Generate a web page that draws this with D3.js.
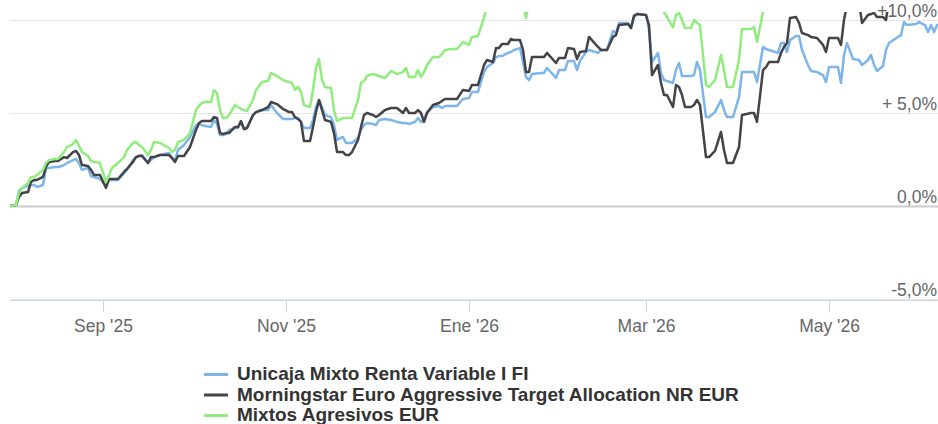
<!DOCTYPE html>
<html>
<head>
<meta charset="utf-8">
<script src="https://cdn.jsdelivr.net/npm/d3@7/dist/d3.min.js"></script>
<style>
  body { margin: 0; background: #fff; }
  svg { display: block; font-family: "Liberation Sans", Arial, Helvetica, sans-serif; }
</style>
</head>
<body>
<svg width="938" height="424"></svg>
<script>
// dates of the sampled points (shared by the three series)
var dates = [
  "2025-08-01","2025-08-03","2025-08-04","2025-08-05","2025-08-07","2025-08-08","2025-08-09","2025-08-10","2025-08-12","2025-08-13",
  "2025-08-14","2025-08-16","2025-08-17","2025-08-19","2025-08-20","2025-08-22","2025-08-23","2025-08-24","2025-08-25","2025-08-27",
  "2025-08-28","2025-08-29","2025-08-31","2025-09-02","2025-09-03","2025-09-04","2025-09-06","2025-09-08","2025-09-09","2025-09-11",
  "2025-09-12","2025-09-13","2025-09-14","2025-09-16","2025-09-17","2025-09-18","2025-09-20","2025-09-23","2025-09-24","2025-09-25",
  "2025-09-26","2025-09-28","2025-09-30","2025-10-02","2025-10-03","2025-10-04","2025-10-05","2025-10-07","2025-10-08","2025-10-09",
  "2025-10-10","2025-10-11","2025-10-12","2025-10-13","2025-10-15","2025-10-16","2025-10-17","2025-10-18","2025-10-19","2025-10-21",
  "2025-10-22","2025-10-24","2025-10-26","2025-10-27","2025-10-29","2025-10-31","2025-11-02","2025-11-03","2025-11-04","2025-11-05",
  "2025-11-06","2025-11-07","2025-11-09","2025-11-10","2025-11-11","2025-11-12","2025-11-13","2025-11-14","2025-11-16","2025-11-17",
  "2025-11-18","2025-11-20","2025-11-21","2025-11-22","2025-11-23","2025-11-25","2025-11-26","2025-11-27","2025-11-28","2025-11-30",
  "2025-12-01","2025-12-02","2025-12-04","2025-12-06","2025-12-08","2025-12-10","2025-12-11","2025-12-12","2025-12-14","2025-12-15",
  "2025-12-16","2025-12-17","2025-12-18","2025-12-20","2025-12-22","2025-12-23","2025-12-24","2025-12-26","2025-12-28","2025-12-30",
  "2026-01-01","2026-01-02","2026-01-04","2026-01-06","2026-01-07","2026-01-09","2026-01-10","2026-01-11","2026-01-12","2026-01-14",
  "2026-01-15","2026-01-16","2026-01-18","2026-01-19","2026-01-20","2026-01-21","2026-01-22","2026-01-25","2026-01-26","2026-01-27",
  "2026-01-30","2026-01-31","2026-02-02","2026-02-03","2026-02-05","2026-02-06","2026-02-07","2026-02-09","2026-02-10","2026-02-13",
  "2026-02-14","2026-02-16","2026-02-18","2026-02-19","2026-02-20","2026-02-23","2026-02-24","2026-02-25","2026-02-26","2026-03-01",
  "2026-03-02","2026-03-03","2026-03-05","2026-03-06","2026-03-07","2026-03-08","2026-03-10","2026-03-11","2026-03-12","2026-03-13",
  "2026-03-14","2026-03-16","2026-03-17","2026-03-18","2026-03-19","2026-03-21","2026-03-22","2026-03-24","2026-03-26","2026-03-27",
  "2026-03-28","2026-03-30","2026-04-01","2026-04-02","2026-04-05","2026-04-06","2026-04-07","2026-04-09","2026-04-10","2026-04-11",
  "2026-04-14","2026-04-15","2026-04-16","2026-04-17","2026-04-18","2026-04-20","2026-04-21","2026-04-22","2026-04-24","2026-04-25",
  "2026-04-27","2026-04-29","2026-04-30","2026-05-01","2026-05-04","2026-05-05","2026-05-06","2026-05-07","2026-05-09","2026-05-11",
  "2026-05-12","2026-05-14","2026-05-15","2026-05-16","2026-05-17","2026-05-19","2026-05-20","2026-05-21","2026-05-24","2026-05-25",
  "2026-05-26","2026-05-27","2026-05-30","2026-05-31","2026-06-02","2026-06-03","2026-06-04","2026-06-05","2026-06-06"
];

// Unicaja Mixto Renta Variable I FI (% return)
var unicaja = [
  0,0.05,0.81,0.97,1.08,1.13,1.13,1.02,1.13,2.04,
  2.04,2.10,2.10,2.20,2.31,2.47,2.53,2.31,1.94,2.04,
  1.61,1.56,1.45,1.08,1.40,1.40,1.40,1.77,1.94,2.47,
  2.63,2.69,2.74,2.31,2.47,2.63,2.74,2.85,2.58,2.47,
  3.01,3.28,3.71,4.35,4.41,4.35,4.30,4.25,4.62,4.41,
  3.82,3.82,3.87,4.09,4.19,4.19,4.52,4.14,4.19,4.89,
  5.05,5.16,5.16,5.43,5.00,4.68,4.68,4.68,4.73,4.73,
  4.52,4.19,4.19,4.62,5.32,5.70,5.32,4.89,4.78,4.35,
  3.55,3.71,3.39,3.39,3.39,3.66,4.09,4.35,4.46,4.41,
  4.35,4.62,4.68,4.62,4.52,4.46,4.46,4.41,4.52,4.73,
  4.52,4.62,5.05,5.32,5.38,5.27,5.38,5.38,5.38,5.75,
  5.81,6.13,6.13,7.20,7.47,7.69,8.01,8.06,8.06,8.23,
  8.28,8.39,8.49,7.74,6.94,6.77,7.10,7.15,7.15,7.42,
  6.88,7.31,7.31,7.80,7.80,7.31,7.80,8.28,8.39,8.23,
  8.39,8.39,9.41,9.30,9.84,9.84,9.57,10.16,10.32,10.27,
  9.46,7.74,8.23,7.15,6.77,6.72,6.61,7.31,7.69,6.99,
  6.99,6.99,7.04,7.74,7.31,4.78,4.78,5.05,5.70,5.16,
  4.78,4.78,5.86,7.20,7.20,7.20,6.67,8.55,8.44,8.39,
  8.23,8.76,8.76,8.28,8.92,9.14,9.14,8.39,7.58,7.26,
  7.20,7.04,6.67,7.47,7.47,6.61,8.12,8.76,7.90,7.85,
  7.58,7.85,8.12,7.58,7.26,7.53,8.39,8.76,9.09,9.19,
  9.89,9.73,9.78,9.89,9.73,9.35,9.73,9.35,9.73
];

// Morningstar Euro Aggressive Target Allocation NR EUR (% return)
var morningstar = [
  0,0.05,0.48,0.70,0.75,1.29,1.40,1.40,1.56,2.10,
  2.37,2.42,2.42,2.63,2.58,2.90,2.96,2.74,2.20,2.15,
  1.94,1.67,1.67,0.97,1.45,1.45,1.45,1.83,1.99,2.37,
  2.63,2.69,2.69,2.31,2.63,2.63,2.74,2.74,2.58,2.37,
  2.69,2.69,3.17,4.09,4.46,4.57,4.57,4.57,4.78,4.73,
  3.92,3.87,3.92,3.92,4.25,4.25,4.57,4.14,4.19,4.89,
  5.05,5.16,5.32,5.59,5.48,5.22,5.05,5.05,4.78,4.68,
  4.52,3.49,3.49,4.25,5.05,5.70,5.16,4.62,4.52,3.92,
  2.90,2.90,2.74,2.74,2.90,3.55,4.25,4.89,5.00,4.89,
  4.78,4.89,5.16,5.27,5.27,5.00,5.27,5.00,5.00,5.16,
  5.00,4.52,5.00,5.43,5.54,5.65,5.75,5.75,5.75,6.24,
  6.18,6.51,6.51,7.58,7.85,7.74,8.49,8.49,8.71,8.71,
  8.98,8.92,8.92,8.39,7.20,7.20,8.01,8.01,8.01,8.23,
  7.69,7.96,7.96,8.49,8.44,7.90,8.28,8.33,9.09,8.55,
  8.39,8.39,9.09,9.19,9.73,9.78,9.57,10.22,10.32,10.27,
  9.73,7.04,7.58,6.61,5.97,5.97,5.32,6.51,6.40,5.97,
  5.32,5.32,5.43,5.70,5.43,2.63,2.63,2.96,3.98,3.01,
  2.31,2.31,3.17,4.89,5.00,5.00,4.52,7.31,7.47,7.74,
  7.74,8.23,8.55,8.76,10.11,10.16,9.84,9.30,9.19,9.09,
  9.03,8.66,8.28,9.03,9.03,8.66,10.00,10.81,11.08,10.97,
  9.84,10.27,10.32,10.38,10.16,10.16,10.00,11.08,11.30,11.40,
  11.70,11.60,11.60,11.70,11.60,11.40,11.50,11.40,11.50
];

// Mixtos Agresivos EUR (% return)
var mixtos = [
  0,0.05,0.70,0.97,1.24,1.56,1.56,1.67,1.94,2.31,
  2.47,2.53,2.53,2.90,3.17,3.33,3.55,3.23,2.90,2.69,
  2.42,2.37,2.31,1.29,1.67,2.04,2.31,2.63,3.01,3.39,
  3.44,3.28,3.17,2.74,3.01,3.44,3.39,3.12,2.90,3.01,
  3.44,3.55,3.92,5.16,5.38,5.54,5.59,5.59,6.24,6.08,
  5.16,4.73,4.73,4.89,5.43,5.32,5.22,5.16,5.11,5.70,
  6.24,6.67,6.72,7.15,6.99,6.77,6.67,6.61,6.24,6.40,
  6.13,5.43,5.32,6.24,7.42,7.90,6.77,6.40,6.34,5.16,
  4.57,4.73,4.73,4.73,4.73,5.70,6.61,6.72,6.99,7.10,
  7.04,6.99,6.88,7.26,7.10,7.20,7.42,6.94,6.94,7.31,
  6.94,7.20,7.58,8.01,8.01,8.17,8.39,8.44,8.44,8.82,
  8.66,9.09,9.14,10.11,10.81,11.30,11.40,11.50,11.60,11.60,
  11.70,11.70,11.50,10.90,10.11,10.90,11.20,11.30,11.30,11.40,
  11.00,11.20,11.20,11.50,11.50,11.20,11.40,11.60,11.80,11.60,
  11.60,11.70,12.00,12.00,12.20,12.20,12.10,12.40,12.50,12.50,
  12.00,11.80,11.60,11.20,10.43,10.16,9.62,10.27,10.38,10.00,
  9.57,9.57,10.00,9.84,9.73,6.51,6.40,6.77,8.12,7.31,
  6.40,6.40,7.85,9.52,9.52,9.62,8.82,10.43,11.20,11.50,
  11.60,11.80,11.90,11.90,12.10,12.20,12.20,12.00,11.80,11.80,
  11.70,11.60,11.50,11.80,11.80,11.60,12.00,12.30,12.30,12.30,
  12.20,12.30,12.40,12.40,12.30,12.30,12.40,12.60,12.70,12.80,
  13.00,12.90,12.90,13.00,12.90,12.70,12.80,12.70,12.80
];

var seriesNames = ["Unicaja Mixto Renta Variable I FI", "Morningstar Euro Aggressive Target Allocation NR EUR", "Mixtos Agresivos EUR"];
var seriesColors = ["#7cb5ec", "#434348", "#90ed7d"];

var xTickDates = ["2025-09-01", "2025-11-01", "2026-01-01", "2026-03-01", "2026-05-01"];
var xTickLabels = ["Sep '25", "Nov '25", "Ene '26", "Mar '26", "May '26"];
var yTickValues = [-5, 0, 5, 10];
var yTickLabels = ["-5,0%", "0,0%", "+ 5,0%", "+10,0%"];

var parse = d3.timeParse("%Y-%m-%d");
var svg = d3.select("svg");
var plot = {left: 10, right: 938, top: 12, bottom: 300};

var x = d3.scaleTime()
    .domain([parse("2025-08-01"), parse("2026-06-06")])
    .range([10, 937]);
var y = d3.scaleLinear().domain([-5, 10]).range([299, 20]);

// grid lines
svg.append("g").selectAll("line")
  .data(yTickValues)
  .enter().append("line")
    .attr("x1", plot.left)
    .attr("x2", plot.right)
    .attr("y1", function(d) { return Math.round(y(d)) + 0.5; })
    .attr("y2", function(d) { return Math.round(y(d)) + 0.5; })
    .attr("stroke", function(d) { return d === 0 ? "#cccccc" : "#e6e6e6"; })
    .attr("stroke-width", function(d) { return d === 0 ? 2 : 1; });

// y labels (right side, drawn under the series)
svg.append("g").selectAll("text")
  .data(yTickValues)
  .enter().append("text")
    .attr("x", 937)
    .attr("y", function(d) { return y(d) - 3; })
    .attr("text-anchor", "end")
    .attr("fill", "#666666")
    .style("font-size", "17.5px")
    .text(function(d, i) { return yTickLabels[i]; });

// x axis
var xAxis = d3.axisBottom(x)
    .tickValues(xTickDates.map(parse))
    .tickFormat(function(d, i) { return xTickLabels[i]; })
    .tickSize(12)
    .tickSizeOuter(0);

var gx = svg.append("g")
    .attr("transform", "translate(0," + plot.bottom + ")")
    .call(xAxis);
gx.select(".domain").attr("stroke", "#ccd6eb").attr("d", "M" + plot.left + ",0.5H" + plot.right);
gx.selectAll(".tick line").attr("stroke", "#ccd6eb");
gx.selectAll(".tick text")
    .attr("y", 31.5)
    .attr("dy", null)
    .attr("fill", "#666666")
    .style("font-size", "17.5px")
    .style("font-family", "'Liberation Sans', Arial, sans-serif");

// series
svg.append("clipPath").attr("id", "plotclip")
  .append("rect")
    .attr("x", plot.left)
    .attr("y", plot.top)
    .attr("width", plot.right - plot.left)
    .attr("height", plot.bottom - plot.top);

var allSeries = [unicaja, morningstar, mixtos];
var line = d3.line()
    .x(function(d) { return x(d.date); })
    .y(function(d) { return y(d.value); });

var gLines = svg.append("g").attr("clip-path", "url(#plotclip)");
allSeries.forEach(function(values, s) {
  var pts = dates.map(function(dt, i) { return {date: parse(dt), value: values[i]}; });
  gLines.append("path")
    .datum(pts)
    .attr("fill", "none")
    .attr("stroke", seriesColors[s])
    .attr("stroke-width", 2.5)
    .attr("stroke-linejoin", "round")
    .attr("stroke-linecap", "round")
    .attr("d", line);
});

// legend
var legend = svg.append("g").attr("transform", "translate(204,380)");
var item = legend.selectAll("g")
  .data(seriesNames)
  .enter().append("g")
    .attr("transform", function(d, i) { return "translate(0," + (i * 20.5) + ")"; });
item.append("line")
    .attr("x1", 0).attr("x2", 24)
    .attr("y1", -5.5).attr("y2", -5.5)
    .attr("stroke", function(d, i) { return seriesColors[i]; })
    .attr("stroke-width", 3);
item.append("text")
    .attr("x", 33)
    .attr("fill", "#333333")
    .style("font-size", "19px")
    .style("font-weight", "bold")
    .text(function(d) { return d; });
</script>
</body>
</html>
